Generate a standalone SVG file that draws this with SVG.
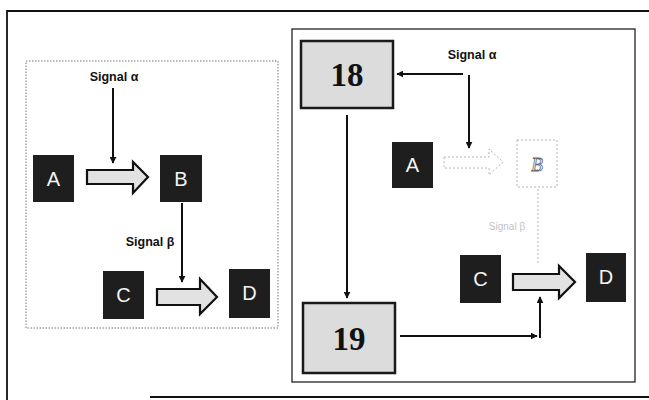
<svg xmlns="http://www.w3.org/2000/svg" width="649" height="400" viewBox="0 0 649 400">
<defs>
<style>
.dark{fill:#1e1e1e;}
.let{font-family:"Liberation Sans",Arial,sans-serif;font-size:20px;fill:#f4f4f4;text-anchor:middle;}
.lbl{font-family:"Liberation Sans",Arial,sans-serif;font-size:12.5px;font-weight:bold;fill:#111;text-anchor:middle;}
.num{font-family:"Liberation Serif","Times New Roman",serif;font-size:33px;font-weight:bold;fill:#111;text-anchor:middle;}
.gbox{fill:#dcdcdc;stroke:#1a1a1a;stroke-width:2.5;}
.block{fill:#e2e2e2;stroke:#111;stroke-width:2.2;stroke-linejoin:miter;}
.ln{stroke:#111;stroke-width:2;fill:none;}
.faint{fill:none;stroke:#b5b5b5;stroke-width:1;stroke-dasharray:2 2;}
</style>
<marker id="ah" viewBox="0 0 10 10" refX="9" refY="5" markerWidth="7" markerHeight="7" markerUnits="userSpaceOnUse" orient="auto">
<path d="M0,0 L10,5 L0,10 z" fill="#111"/>
</marker>
</defs>
<rect width="649" height="400" fill="#fff"/>
<!-- outer frame -->
<path d="M649,11 L7,11 L7,400 M150,397 L649,397" fill="none" stroke="#111" stroke-width="1.8"/>
<!-- left dotted panel -->
<rect x="26" y="61" width="252" height="267" fill="none" stroke="#777" stroke-width="1" stroke-dasharray="1.5 1.5"/>
<!-- right panel -->
<rect x="292" y="29" width="343" height="353" fill="none" stroke="#222" stroke-width="1.3"/>

<g id="connectors">
<line class="ln" x1="113" y1="88" x2="113" y2="163" marker-end="url(#ah)"/>
<line class="ln" x1="182" y1="203" x2="182" y2="282" marker-end="url(#ah)"/>
<line class="ln" x1="463" y1="74" x2="397" y2="74" marker-end="url(#ah)"/>
<line class="ln" x1="469" y1="75" x2="469" y2="148" marker-end="url(#ah)"/>
<line class="ln" x1="347" y1="115" x2="347" y2="298" marker-end="url(#ah)"/>
<line class="ln" x1="400" y1="336" x2="537" y2="336" marker-end="url(#ah)"/>
<line class="ln" x1="540" y1="338" x2="540" y2="297" marker-end="url(#ah)"/>
<line class="faint" x1="538" y1="189" x2="538" y2="263"/>
</g>

<g id="left-signal-alpha"><text class="lbl" x="114" y="81">Signal α</text></g>
<g id="left-signal-beta"><text class="lbl" x="150" y="246">Signal β</text></g>

<g id="left-A"><rect class="dark" x="33" y="155" width="41" height="47"/><text class="let" x="53.5" y="186">A</text></g>
<g id="left-B"><rect class="dark" x="160" y="155" width="42" height="47"/><text class="let" x="181" y="186">B</text></g>
<g id="left-AB-arrow"><path class="block" d="M87,170 L133,170 L133,162 L148,177 L133,193 L133,184 L87,184 z"/></g>
<g id="left-C"><rect class="dark" x="103" y="271" width="41" height="48"/><text class="let" x="123.5" y="302">C</text></g>
<g id="left-D"><rect class="dark" x="229" y="269" width="41" height="49"/><text class="let" x="249.5" y="300">D</text></g>
<g id="left-CD-arrow"><path class="block" d="M157,289 L200,289 L200,279 L217,297 L200,314 L200,305 L157,305 z"/></g>

<g id="box18"><rect class="gbox" x="301" y="41" width="92" height="67"/><text class="num" x="347" y="86">18</text></g>
<g id="box19"><rect class="gbox" x="303" y="303" width="92" height="70"/><text class="num" x="349" y="350">19</text></g>
<g id="right-signal-alpha"><text class="lbl" x="472" y="59">Signal α</text></g>
<g id="right-signal-beta"><text x="507" y="230" font-family="Liberation Sans,Arial,sans-serif" font-size="10" fill="#c4c4c4" text-anchor="middle">Signal β</text></g>

<g id="right-A"><rect class="dark" x="392" y="142" width="41" height="46"/><text class="let" x="412.5" y="172">A</text></g>
<g id="right-AB-arrow"><path class="faint" d="M444,157 L489,157 L489,149 L503,162 L489,175 L489,168 L444,168 z"/></g>
<g id="right-B"><rect class="faint" x="517" y="140" width="40" height="47"/><text x="537" y="171" font-family="Liberation Serif,serif" font-style="italic" font-size="19" fill="#fff" stroke="#666" stroke-width="0.8" text-anchor="middle">B</text></g>
<g id="right-C"><rect class="dark" x="460" y="255" width="41" height="48"/><text class="let" x="480.5" y="286">C</text></g>
<g id="right-D"><rect class="dark" x="586" y="253" width="40" height="49"/><text class="let" x="606" y="284">D</text></g>
<g id="right-CD-arrow"><path class="block" d="M513,274 L559,274 L559,266 L575,282 L559,298 L559,290 L513,290 z"/></g>
</svg>
